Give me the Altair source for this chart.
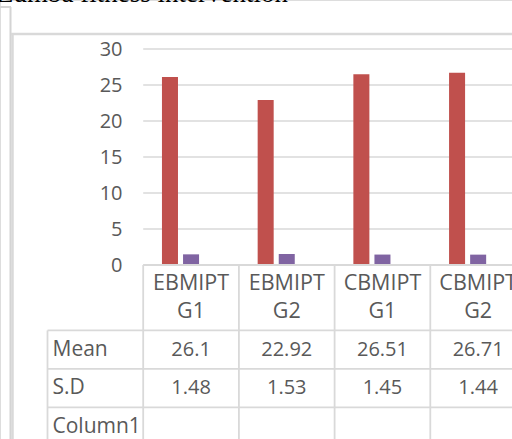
import altair as alt
import pandas as pd

# ---- data ----
categories = ["EBMIPT G1", "EBMIPT G2", "CBMIPT G1", "CBMIPT G2"]
mean_values = [26.1, 22.92, 26.51, 26.71]
sd_values = [1.48, 1.53, 1.45, 1.44]
column1_values = [None, None, None, None]
series_names = ["Mean", "S.D", "Column1"]
series_colors = ["#C0504D", "#8064A2", "#9BBB59"]
y_ticks = [0, 5, 10, 15, 20, 25, 30]
title_text = "Zumba fitness intervention"

# ---- layout ----
W, H = 512, 439
TEXT = "#595959"
LINE = "#D9D9D9"
FONT = "Open Sans"
LABEL_KEY = "rows"
col_keys = [LABEL_KEY] + categories
X0, STEP = 47.5, 95.7
xscale = alt.Scale(domain=col_keys, range=[X0, X0 + len(col_keys) * STEP],
                   paddingInner=0, paddingOuter=0)
vscale = alt.Scale(domain=[0, 30], range=[265, 49], nice=False, zero=True)
ROW_H = 38.5
HEADER_ROWS = 1.7
n_rows = HEADER_ROWS + len(series_names)
tscale = alt.Scale(domain=[0, n_rows], range=[265, 265 + n_rows * ROW_H], nice=False, zero=False)

# ---- tables built from the arrays ----
series_values = {"Mean": mean_values, "S.D": sd_values, "Column1": column1_values}
bar_rows = []
for s in series_names:
    for c, v in zip(categories, series_values[s]):
        if v is not None:
            bar_rows.append({"col": c, "series": s, "value": v})
bars_df = pd.DataFrame(bar_rows)

grid_df = pd.DataFrame({"tick": y_ticks, "col": categories[0]})

header_df = pd.DataFrame({"col": categories, "pos": HEADER_ROWS / 2, "label": categories})

cell_rows = []
label_rows = []
for i, s in enumerate(series_names):
    mid = HEADER_ROWS + i + 0.5
    label_rows.append({"col": LABEL_KEY, "pos": mid, "label": s})
    for c, v in zip(categories, series_values[s]):
        cell_rows.append({"col": c, "pos": mid, "label": "" if v is None else str(v)})
cell_df = pd.DataFrame(cell_rows)
rowlabel_df = pd.DataFrame(label_rows)

h_bounds = [0] + [HEADER_ROWS + i for i in range(len(series_names))]
h_start = [categories[0]] + [LABEL_KEY] * len(series_names)
hline_df = pd.DataFrame({"pos": h_bounds, "col": h_start})
vline_df = pd.DataFrame({"col": col_keys,
                         "top": [HEADER_ROWS] + [0] * len(categories),
                         "bottom": [n_rows + 1] * len(col_keys)})

# ---- layers ----
frame1 = alt.Chart().mark_rule(color="#D4D4D4", strokeWidth=2).encode(
    x=alt.value(0), x2=alt.value(11), y=alt.value(7))
frame2 = alt.Chart().mark_rule(color="#D4D4D4", strokeWidth=2).encode(
    x=alt.value(10.5), y=alt.value(7), y2=alt.value(H))
frame3 = alt.Chart().mark_rule(color="#D9D9D9", strokeWidth=2.5).encode(
    x=alt.value(12.5), y=alt.value(34), y2=alt.value(H))
frame4 = alt.Chart().mark_rule(color="#D9D9D9", strokeWidth=2.5).encode(
    x=alt.value(11), x2=alt.value(W), y=alt.value(34))

title = alt.Chart(pd.DataFrame({"t": [title_text]})).mark_text(
    font="Liberation Serif", fontSize=27, color="black", align="left",
    baseline="alphabetic").encode(text="t:N", x=alt.value(-3), y=alt.value(1.5))

grid = alt.Chart(grid_df).mark_rule(color=LINE, strokeWidth=1.5).encode(
    x=alt.X("col:N", scale=xscale, bandPosition=0, axis=None),
    x2=alt.value(W),
    y=alt.Y("tick:Q", scale=vscale, axis=None),
)

bars = alt.Chart(bars_df).mark_bar().encode(
    x=alt.X("col:N", scale=xscale, axis=None),
    xOffset=alt.XOffset("series:N", scale=alt.Scale(domain=series_names,
                                                    paddingInner=0.24, paddingOuter=0.89)),
    y=alt.Y("value:Q", scale=vscale, stack=None,
            axis=alt.Axis(values=y_ticks, grid=False, domain=False, ticks=False,
                          tickSize=0, labelPadding=8, offset=-130, title=None,
                          labelFont=FONT, labelFontSize=20, labelColor=TEXT)),
    color=alt.Color("series:N", scale=alt.Scale(domain=series_names, range=series_colors),
                    legend=None),
)

hlines = alt.Chart(hline_df).mark_rule(color=LINE, strokeWidth=1.8).encode(
    x=alt.X("col:N", scale=xscale, bandPosition=0, axis=None),
    x2=alt.value(W),
    y=alt.Y("pos:Q", scale=tscale, axis=None),
)
vlines = alt.Chart(vline_df).mark_rule(color=LINE, strokeWidth=1.8).encode(
    x=alt.X("col:N", scale=xscale, bandPosition=0, axis=None),
    y=alt.Y("top:Q", scale=tscale, axis=None),
    y2="bottom:Q",
)

header = alt.Chart(header_df).mark_text(
    font=FONT, fontSize=21.5, color=TEXT, lineBreak=" ", lineHeight=28,
    align="center", baseline="middle", dy=-14).encode(
    x=alt.X("col:N", scale=xscale, bandPosition=0.5, axis=None),
    y=alt.Y("pos:Q", scale=tscale, axis=None),
    text="label:N",
)
cells = alt.Chart(cell_df).mark_text(
    font=FONT, fontSize=20, color=TEXT, align="center", baseline="middle").encode(
    x=alt.X("col:N", scale=xscale, bandPosition=0.5, axis=None),
    y=alt.Y("pos:Q", scale=tscale, axis=None),
    text="label:N",
)
rowlabels = alt.Chart(rowlabel_df).mark_text(
    font=FONT, fontSize=21, color=TEXT, align="left", baseline="middle", dx=5).encode(
    x=alt.X("col:N", scale=xscale, bandPosition=0, axis=None),
    y=alt.Y("pos:Q", scale=tscale, axis=None),
    text="label:N",
)

chart = alt.layer(
    frame1, frame2, frame3, frame4, title, grid, bars, hlines, vlines, header, cells, rowlabels
).resolve_scale(y="independent").properties(
    width=W, height=H,
    autosize=alt.AutoSizeParams(type="none"),
    padding=0,
).configure_view(stroke=None).configure(background="white")

chart.save("out.html", embed_options={"renderer": "svg", "actions": False})
